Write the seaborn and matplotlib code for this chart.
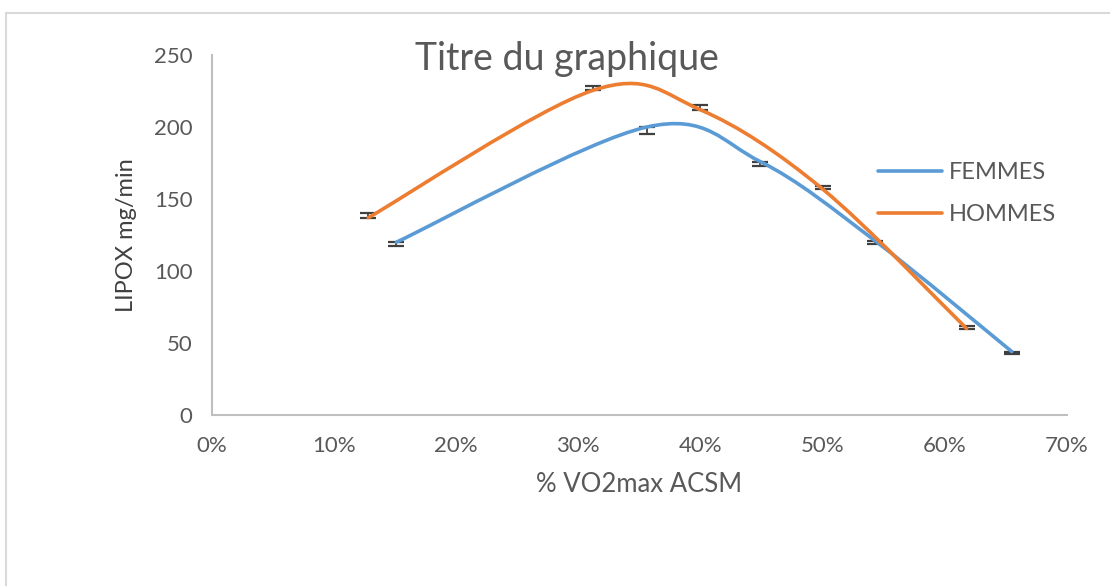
import matplotlib
matplotlib.use("Agg")
import matplotlib.pyplot as plt
import seaborn as sns
import numpy as np
from matplotlib.path import Path
from matplotlib.patches import PathPatch, Rectangle
from matplotlib.lines import Line2D
from matplotlib.ticker import FuncFormatter

# data
femmes_x = [0.151, 0.356, 0.449, 0.543, 0.655]
femmes_y = [120, 200, 176, 121, 44]
femmes_err = [3, 5, 3, 2, 2]

hommes_x = [0.128, 0.312, 0.400, 0.500, 0.618]
hommes_y = [137, 225.5, 212, 157, 60]
hommes_err = [3, 3, 3, 2, 2]

series_names = ["FEMMES", "HOMMES"]
x_ticks = [0, 0.1, 0.2, 0.3, 0.4, 0.5, 0.6, 0.7]
y_ticks = [0, 50, 100, 150, 200, 250]

BLUE = "#5B9BD5"
ORANGE = "#ED7D31"
GREY_TXT = "#595959"

sns.set_theme(style="white")
plt.rcParams["font.family"] = ["Lato", "DejaVu Sans"]


def smooth_path(xs, ys):
    """Excel-like smoothed line: cubic Bezier segments through the points"""
    pts = list(zip(xs, ys))
    verts = [pts[0]]
    codes = [Path.MOVETO]
    n = len(pts)
    for i in range(n - 1):
        p0 = pts[i - 1] if i > 0 else pts[i]
        p1 = pts[i]
        p2 = pts[i + 1]
        p3 = pts[i + 2] if i + 2 < n else pts[i + 1]
        c1 = (p1[0] + (p2[0] - p0[0]) / 6, p1[1] + (p2[1] - p0[1]) / 6)
        c2 = (p2[0] - (p3[0] - p1[0]) / 6, p2[1] - (p3[1] - p1[1]) / 6)
        verts += [c1, c2, p2]
        codes += [Path.CURVE4] * 3
    return Path(verts, codes)


fig = plt.figure(figsize=(11.1, 5.86), dpi=100)
ax = fig.add_axes([0.191, 0.292, 0.770, 0.614])

# chart area border (partly cropped in the reference)
fig.patches.append(Rectangle((6 / 1110, -0.1), 1.2, 1 - 13 / 586 + 0.1,
                             transform=fig.transFigure, fill=False,
                             edgecolor="#D9D9D9", linewidth=1.5))

for xs, ys, errs, color, up in [(femmes_x, femmes_y, femmes_err, BLUE, False),
                                (hommes_x, hommes_y, hommes_err, ORANGE, True)]:
    err = np.array(errs)
    yerr = [np.zeros_like(err), err] if up else [err, np.zeros_like(err)]
    ax.errorbar(xs, ys, yerr=yerr, fmt="none", ecolor="#404040",
                elinewidth=1.3, capsize=6, capthick=1.6, zorder=2)
    ax.add_patch(PathPatch(smooth_path(xs, ys), facecolor="none",
                           edgecolor=color, linewidth=2.6,
                           capstyle="round", zorder=3))

ax.set_xlim(0, 0.7)
ax.set_ylim(0, 250)
ax.set_xticks(x_ticks)
ax.set_yticks(y_ticks)
ax.xaxis.set_major_formatter(FuncFormatter(lambda v, p: f"{v * 100:.0f}%"))
ax.tick_params(axis="both", length=0, labelsize=16, labelcolor=GREY_TXT)
ax.tick_params(axis="x", pad=15)
ax.tick_params(axis="y", pad=14)

for side in ["top", "right"]:
    ax.spines[side].set_visible(False)
for side in ["left", "bottom"]:
    ax.spines[side].set_color("#BFBFBF")
    ax.spines[side].set_linewidth(1.5)

ax.set_xlabel("% VO2max ACSM", fontsize=18.5, color=GREY_TXT, labelpad=12)
ax.set_ylabel("LIPOX mg/min", fontsize=17, color="#404040", labelpad=12)
fig.text(0.511, 0.900, "Titre du graphique", fontsize=27, color=GREY_TXT,
         ha="center", va="center")

handles = [Line2D([], [], color=BLUE, linewidth=2.6),
           Line2D([], [], color=ORANGE, linewidth=2.6)]
leg = fig.legend(handles, series_names, loc="upper left",
                 bbox_to_anchor=(0.772, 0.76), frameon=False, fontsize=17,
                 handlelength=2.7, handletextpad=0.3, labelspacing=0.9)
for t in leg.get_texts():
    t.set_color(GREY_TXT)

fig.savefig("out.png", dpi=100)
